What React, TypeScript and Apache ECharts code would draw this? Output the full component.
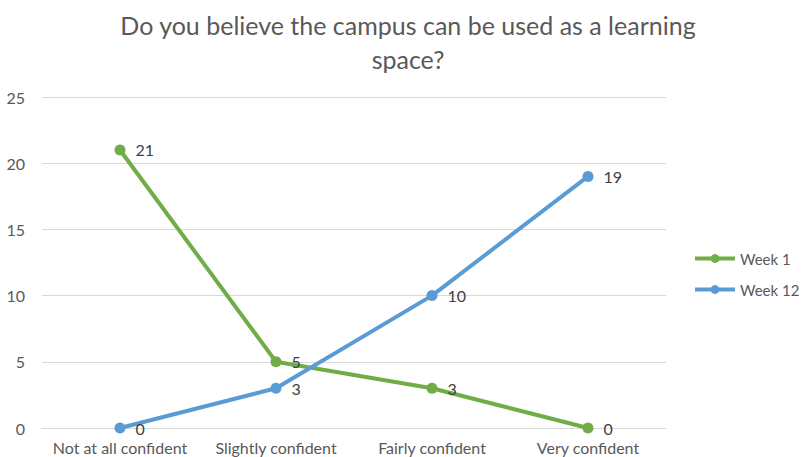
import React, { useEffect, useRef } from "react";
import * as echarts from "echarts";

const categories = ["Not at all confident", "Slightly confident", "Fairly confident", "Very confident"];
const week1 = [21, 5, 3, 0];
const week12 = [0, 3, 10, 19];
const yTicks = { min: 0, max: 25, interval: 5 };
const titleText = "Do you believe the campus can be used as a learning\nspace?";

export default function App() {
  const ref = useRef<HTMLDivElement>(null);
  useEffect(() => {
    if (!ref.current) return;
    const chart = echarts.init(ref.current, null, { renderer: "svg" });
    const font = "Lato, 'Open Sans', sans-serif";
    const label = {
      show: true,
      position: "right",
      distance: 10,
      color: "#404040",
      fontSize: 16,
      fontFamily: font,
    };
    chart.setOption({
      animation: false,
      backgroundColor: "#ffffff",
      textStyle: { fontFamily: font },
      graphic: [
        {
          type: "text",
          x: 408,
          y: 8,
          style: {
            text: titleText,
            textAlign: "center",
            textVerticalAlign: "top",
            fill: "#595959",
            fontSize: 25,
            fontWeight: "normal",
            lineHeight: 34,
            fontFamily: font,
          },
        },
      ],
      legend: {
        orient: "vertical",
        left: 693,
        top: 251,
        padding: 0,
        itemWidth: 40,
        itemHeight: 11,
        itemGap: 16,
        lineStyle: { width: 4 },
        textStyle: { color: "#595959", fontSize: 15, fontFamily: font },
        data: ["Week 1", "Week 12"],
      },
      grid: { left: 42, right: 135, top: 97, bottom: 29 },
      xAxis: {
        type: "category",
        data: categories,
        boundaryGap: true,
        axisLine: { lineStyle: { color: "#d9d9d9" } },
        axisTick: { show: false },
        axisLabel: { color: "#595959", fontSize: 16, margin: 11, interval: 0, fontFamily: font },
      },
      yAxis: {
        type: "value",
        min: yTicks.min,
        max: yTicks.max,
        interval: yTicks.interval,
        axisLine: { show: false },
        axisTick: { show: false },
        splitLine: { lineStyle: { color: "#d9d9d9" } },
        axisLabel: { color: "#595959", fontSize: 16, margin: 17, fontFamily: font },
      },
      series: [
        {
          name: "Week 1",
          type: "line",
          data: week1,
          symbol: "circle",
          symbolSize: 11,
          lineStyle: { width: 4, color: "#70AD47" },
          itemStyle: { color: "#70AD47" },
          label,
        },
        {
          name: "Week 12",
          type: "line",
          data: week12,
          symbol: "circle",
          symbolSize: 11,
          lineStyle: { width: 4, color: "#5B9BD5" },
          itemStyle: { color: "#5B9BD5" },
          label,
        },
      ],
    });
    return () => chart.dispose();
  }, []);
  return (
    <div
      ref={ref}
      style={{ position: "fixed", left: 0, top: 0, width: 801, height: 457 }}
    />
  );
}
